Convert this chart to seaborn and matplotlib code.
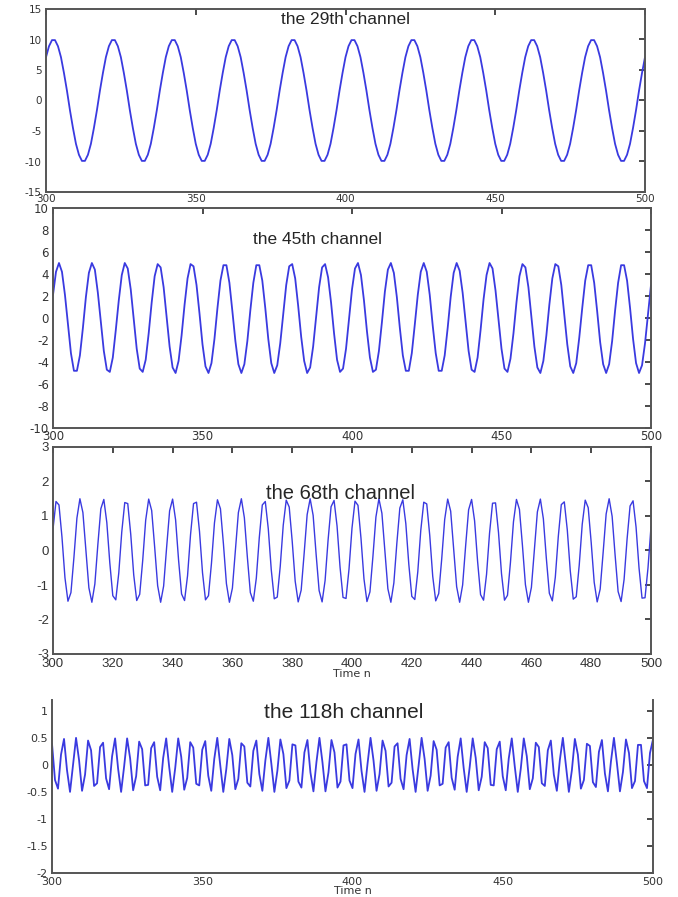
import numpy as np
import matplotlib
matplotlib.use("Agg")
import matplotlib.pyplot as plt
import seaborn as sns

sns.set_theme(style="white")
plt.rcParams['font.family'] = ['Liberation Sans', 'DejaVu Sans']

# sample index n = 300..500
n = list(range(300, 501))

# the 29th channel (one value per sample)
ch29 = [7.1, 8.9, 9.9, 9.9, 8.9, 7.1, 4.5, 1.6, -1.6, -4.5, -7.1, -8.9, -9.9, -9.9, -8.9, -7.1, -4.5, -1.6, 1.6, 4.5] * 10 + [7.1]

# the 45th channel, in tenths
ch45_tenths = [21, 42, 50, 42, 21, -6, -32, -48, -48, -34, -9, 19, 41, 50, 44, 23, -4, -30, -47, -49,
               -36, -11, 16, 39, 50, 45, 26, -1, -28, -46, -49, -38, -14, 14, 38, 49, 46, 28, 1, -26,
               -45, -50, -39, -16, 12, 36, 49, 47, 30, 4, -24, -44, -50, -41, -19, 9, 34, 48, 48, 32,
               6, -21, -42, -50, -42, -21, 7, 32, 48, 48, 34, 9, -19, -41, -50, -43, -23, 4, 30, 47,
               49, 36, 11, -17, -39, -50, -45, -26, 1, 28, 46, 49, 37, 14, -14, -38, -49, -46, -28, -1,
               26, 45, 50, 39, 16, -12, -36, -49, -47, -30, -4, 24, 44, 50, 41, 19, -9, -34, -48, -48,
               -32, -6, 21, 42, 50, 42, 21, -7, -32, -48, -48, -34, -9, 19, 41, 50, 43, 23, -4, -30,
               -47, -49, -36, -11, 17, 39, 50, 45, 25, -2, -28, -46, -49, -37, -14, 14, 38, 49, 46, 28,
               1, -26, -45, -50, -39, -16, 12, 36, 49, 47, 30, 3, -24, -44, -50, -41, -18, 9, 34, 48,
               48, 32, 6, -22, -42, -50, -42, -21, 7, 32, 48, 48, 34, 9, -19, -41, -50, -43, -23, 4,
               30]
ch45 = [v / 10 for v in ch45_tenths]

# the 68th channel, in hundredths
ch68_hundredths = [62, 142, 132, 39, -79, -147, -122, -20, 94, 150, 110, 2, -108, -150, -97, 17, 121, 148, 81, -36,
                   -131, -143, -65, 54, 139, 136, 47, -71, -145, -127, -29, 88, 149, 116, 10, -102, -150, -103, 9, 115,
                   149, 89, -28, -126, -145, -73, 46, 136, 140, 55, -64, -143, -131, -37, 80, 147, 121, 19, -96, -150,
                   -109, 0, 110, 150, 95, -19, -122, -147, -80, 38, 132, 142, 63, -56, -140, -135, -46, 73, 146, 126,
                   27, -89, -149, -115, -8, 104, 150, 102, -11, -116, -149, -87, 30, 127, 145, 71, -48, -136, -139, -54,
                   65, 143, 131, 36, -82, -148, -120, -17, 97, 150, 108, -2, -111, -150, -94, 21, 123, 147, 78, -40,
                   -133, -142, -62, 58, 140, 135, 44, -75, -146, -125, -25, 90, 149, 114, 6, -105, -150, -100, 13, 118,
                   148, 86, -31, -128, -144, -69, 50, 137, 138, 52, -67, -144, -130, -34, 83, 148, 119, 15, -99, -150,
                   -107, 4, 112, 149, 92, -23, -124, -146, -77, 41, 133, 141, 60, -59, -141, -134, -42, 76, 146, 124,
                   23, -92, -149, -112, -5, 106, 150, 99, -14, -119, -148, -84, 33, 129, 144, 68, -51, -138, -137, -50,
                   69]
ch68 = [v / 100 for v in ch68_hundredths]

# the 118h channel
ch118 = [0.39, -0.28, -0.44, 0.19, 0.48, -0.10, -0.50, 0.00, 0.50, 0.09, -0.48, -0.18, 0.45, 0.27, -0.39, -0.34,
         0.33, 0.41, -0.25, -0.45, 0.16, 0.49, -0.07, -0.50, -0.03, 0.49, 0.12, -0.47, -0.21, 0.43, 0.29, -0.38, -0.37,
         0.31, 0.42, -0.22, -0.47, 0.13, 0.49, -0.04, -0.5, -0.06, 0.49,
         0.15, -0.46, -0.24, 0.42, 0.32, -0.35, -0.38, 0.28, 0.44, -0.2,
         -0.48, 0.11, 0.5, -0.01, -0.5, -0.08, 0.48, 0.18, -0.45, -0.26,
         0.4, 0.34, -0.33, -0.4, 0.26, 0.45, -0.17, -0.48, 0.08, 0.5,
         0.02, -0.5, -0.11, 0.47, 0.2, -0.43, -0.29, 0.38, 0.36, -0.31,
         -0.42, 0.23, 0.46, -0.14, -0.49, 0.05, 0.5, 0.05, -0.49, -0.14,
         0.46, 0.23, -0.42, -0.31, 0.36, 0.38, -0.29, -0.43, 0.2, 0.47,
         -0.11, -0.5, 0.02, 0.5, 0.08, -0.48, -0.17, 0.45, 0.26, -0.4,
         -0.33, 0.34, 0.4, -0.26, -0.45, 0.18, 0.48, -0.08, -0.5, -0.01,
         0.5, 0.11, -0.48, -0.2, 0.44, 0.28, -0.38, -0.35, 0.32, 0.42,
         -0.24, -0.46, 0.15, 0.49, -0.06, -0.5, -0.04, 0.49, 0.13, -0.47,
         -0.22, 0.42, 0.31, -0.37, -0.38, 0.29, 0.43, -0.21, -0.47, 0.12,
         0.49, -0.03, -0.5, -0.07, 0.49, 0.16, -0.45, -0.25, 0.41, 0.33,
         -0.34, -0.39, 0.27, 0.45, -0.18, -0.48, 0.09, 0.5, 0, -0.5,
         -0.1, 0.48, 0.19, -0.44, -0.28, 0.39, 0.35, -0.32, -0.41, 0.24,
         0.46, -0.16, -0.49, 0.06, 0.5, 0.03, -0.49, -0.13, 0.47, 0.22,
         -0.43, -0.3, 0.37, 0.37, -0.3, -0.43, 0.22, 0.47]

titles = ["the 29th channel", "the 45th channel", "the 68th channel", "the 118h channel"]
y_limits = [(-15, 15), (-10, 10), (-3, 3), (-2, 1.2)]
y_ticks = [[-15, -10, -5, 0, 5, 10, 15],
           [-10, -8, -6, -4, -2, 0, 2, 4, 6, 8, 10],
           [-3, -2, -1, 0, 1, 2, 3],
           [-2, -1.5, -1, -0.5, 0, 0.5, 1]]
x_ticks = [[300, 350, 400, 450, 500],
           [300, 350, 400, 450, 500],
           [300, 320, 340, 360, 380, 400, 420, 440, 460, 480, 500],
           [300, 350, 400, 450, 500]]

W, H = 678, 897
fig = plt.figure(figsize=(W / 100, H / 100), dpi=100)

def box(l, r, t, b):
    # pixel box -> figure fraction
    return [l / W, 1 - b / H, (r - l) / W, (b - t) / H]

layout = [
    # axes box, title pos (axes frac), title size, tick size, line width, tick font
    (box(46, 645, 9, 192), (0.5, 0.94), 12.5, 7.5, 1.3, "DejaVu Sans"),
    (box(53, 651, 208, 428), (0.443, 0.855), 12.5, 8.5, 1.3, "DejaVu Sans"),
    (box(53, 651, 447, 654), (0.48, 0.773), 14.5, 9.5, 1.0, "Liberation Sans"),
    (box(52, 653, 700, 873), (0.486, 0.93), 15, 8, 1.3, "DejaVu Sans"),
]
series = [ch29, ch45, ch68, ch118]

for i, (pos, tpos, tsize, lsize, lw, tfont) in enumerate(layout):
    ax = fig.add_axes(pos)
    sns.lineplot(x=n, y=series[i], ax=ax, color="#3a3ae0", linewidth=lw)
    ax.set_xlim(300, 500)
    ax.set_ylim(*y_limits[i])
    ax.set_xticks(x_ticks[i])
    ax.set_yticks(y_ticks[i])
    ax.set_yticklabels([f"{v:g}" for v in y_ticks[i]])
    ax.tick_params(direction="in", top=True, right=True, length=4, labelsize=lsize, colors="#333333")
    ax.tick_params(axis="x", pad=1.5 if i < 2 else 3)
    ax.tick_params(axis="y", pad=3)
    for lab in ax.get_xticklabels() + ax.get_yticklabels():
        lab.set_family(tfont)
    for s in ax.spines.values():
        s.set_color("#555555")
        s.set_linewidth(1.4)
    if i == 3:
        # top border is not visible in the last panel
        ax.spines["top"].set_visible(False)
        ax.tick_params(top=False)
    if i >= 2:
        ax.set_xlabel("Time n", fontsize=8, labelpad=-1, color="#333333", family="DejaVu Sans")
    ax.text(tpos[0], tpos[1], titles[i], transform=ax.transAxes, ha="center", va="center", fontsize=tsize)

fig.savefig("out.png", dpi=100)
